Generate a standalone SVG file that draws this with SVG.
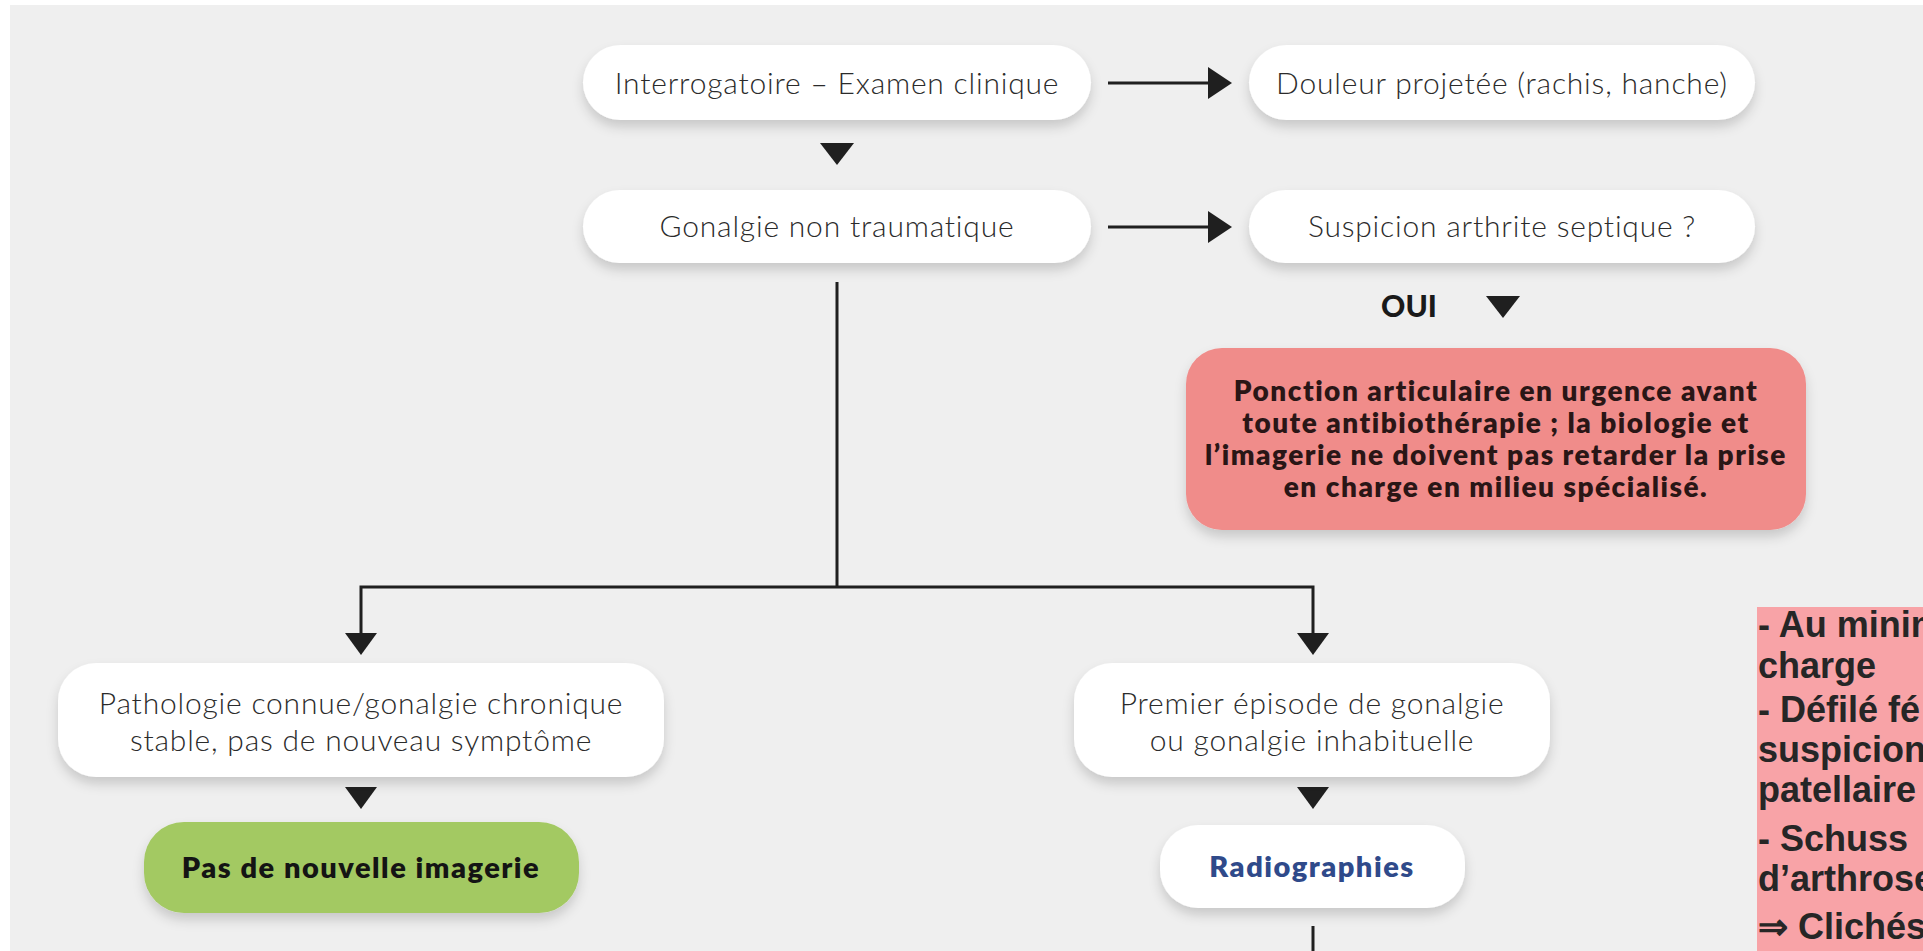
<svg xmlns="http://www.w3.org/2000/svg" width="1923" height="951" viewBox="0 0 1923 951">
<defs>
<filter id="sh" x="-10%" y="-30%" width="120%" height="170%">
<feDropShadow dx="0" dy="7" stdDeviation="6" flood-color="#000" flood-opacity="0.16"/>
</filter>
<style>
.box{fill:#ffffff;filter:url(#sh)}
.red{fill:#f08c8a;filter:url(#sh)}
.green{fill:#a3c962;filter:url(#sh)}
.t{font-family:Lato,"Open Sans",sans-serif;font-weight:300;font-size:30px;letter-spacing:0.8px;fill:#2b2b2b;text-anchor:middle}
.b{font-family:Lato,"Open Sans",sans-serif;font-weight:800;font-size:28px;letter-spacing:1.5px;fill:#2a1616;text-anchor:middle}
.line{stroke:#1f1f1f;stroke-width:3;fill:none}
.tri{fill:#1f1f1f}
.note{font-family:"Liberation Sans",Arial,sans-serif;font-weight:bold;font-size:36px;fill:#262626}
</style>
</defs>
<rect x="0" y="0" width="1923" height="951" fill="#ffffff"/>
<rect x="10" y="5" width="1913" height="946" fill="#efefef"/>

<g id="connectors">
<line class="line" x1="1108" y1="83" x2="1210" y2="83"/>
<path class="tri" d="M1208,67 L1232,83 L1208,99 Z"/>
<line class="line" x1="1108" y1="227" x2="1210" y2="227"/>
<path class="tri" d="M1208,211 L1232,227 L1208,243 Z"/>
<path class="tri" d="M820,143 L854,143 L837,165 Z"/>
<path class="tri" d="M1486,296 L1520,296 L1503,318 Z"/>
<polyline class="line" points="837,282 837,587"/>
<polyline class="line" points="361,635 361,587 1313,587 1313,635"/>
<path class="tri" d="M345,633 L377,633 L361,655 Z"/>
<path class="tri" d="M1297,633 L1329,633 L1313,655 Z"/>
<path class="tri" d="M345,787 L377,787 L361,809 Z"/>
<path class="tri" d="M1297,787 L1329,787 L1313,809 Z"/>
<line class="line" x1="1313" y1="926" x2="1313" y2="951"/>
</g>

<g id="n-interrogatoire">
<rect class="box" x="583" y="45" width="508" height="75" rx="37.5"/>
<text class="t" x="837" y="94">Interrogatoire – Examen clinique</text>
</g>
<g id="n-douleur">
<rect class="box" x="1249" y="45" width="506" height="75" rx="37.5"/>
<text class="t" x="1502" y="94">Douleur projetée (rachis, hanche)</text>
</g>
<g id="n-gonalgie">
<rect class="box" x="583" y="190" width="508" height="73" rx="36.5"/>
<text class="t" x="837" y="237">Gonalgie non traumatique</text>
</g>
<g id="n-suspicion">
<rect class="box" x="1249" y="190" width="506" height="73" rx="36.5"/>
<text class="t" x="1502" y="237">Suspicion arthrite septique ?</text>
</g>
<g id="l-oui">
<text class="b" x="1409" y="317" style="font-weight:900;font-size:30px;letter-spacing:0;fill:#1a1a1a">OUI</text>
</g>
<g id="n-ponction">
<rect class="red" x="1186" y="348" width="620" height="182" rx="36"/>
<text class="b" x="1496" y="401">Ponction articulaire en urgence avant</text>
<text class="b" x="1496" y="433">toute antibiothérapie ; la biologie et</text>
<text class="b" x="1496" y="465">l’imagerie ne doivent pas retarder la prise</text>
<text class="b" x="1496" y="497">en charge en milieu spécialisé.</text>
</g>
<g id="n-pathologie">
<rect class="box" x="58" y="663" width="606" height="114" rx="38"/>
<text class="t" x="361" y="714">Pathologie connue/gonalgie chronique</text>
<text class="t" x="361" y="751">stable, pas de nouveau symptôme</text>
</g>
<g id="n-pas-imagerie">
<rect class="green" x="144" y="822" width="435" height="91" rx="40"/>
<text class="b" x="361" y="878" style="font-size:29px;fill:#141414">Pas de nouvelle imagerie</text>
</g>
<g id="n-premier">
<rect class="box" x="1074" y="663" width="476" height="114" rx="38"/>
<text class="t" x="1312" y="714">Premier épisode de gonalgie</text>
<text class="t" x="1312" y="751">ou gonalgie inhabituelle</text>
</g>
<g id="n-radiographies">
<rect class="box" x="1160" y="825" width="305" height="83" rx="38"/>
<text class="b" x="1312" y="877" style="font-size:29px;fill:#2f4a8a">Radiographies</text>
</g>
<g id="n-note">
<rect x="1757" y="607" width="166" height="344" fill="#f8a3a7"/>
<text class="note" x="1758" y="637">- Au minim</text>
<text class="note" x="1758" y="678">charge</text>
<text class="note" x="1758" y="722">- Défilé fé</text>
<text class="note" x="1758" y="762">suspicion</text>
<text class="note" x="1758" y="802">patellaire</text>
<text class="note" x="1758" y="851">- Schuss</text>
<text class="note" x="1758" y="891">d’arthrose</text>
<text class="note" x="1758" y="939">⇒ Clichés</text>
</g>
</svg>
